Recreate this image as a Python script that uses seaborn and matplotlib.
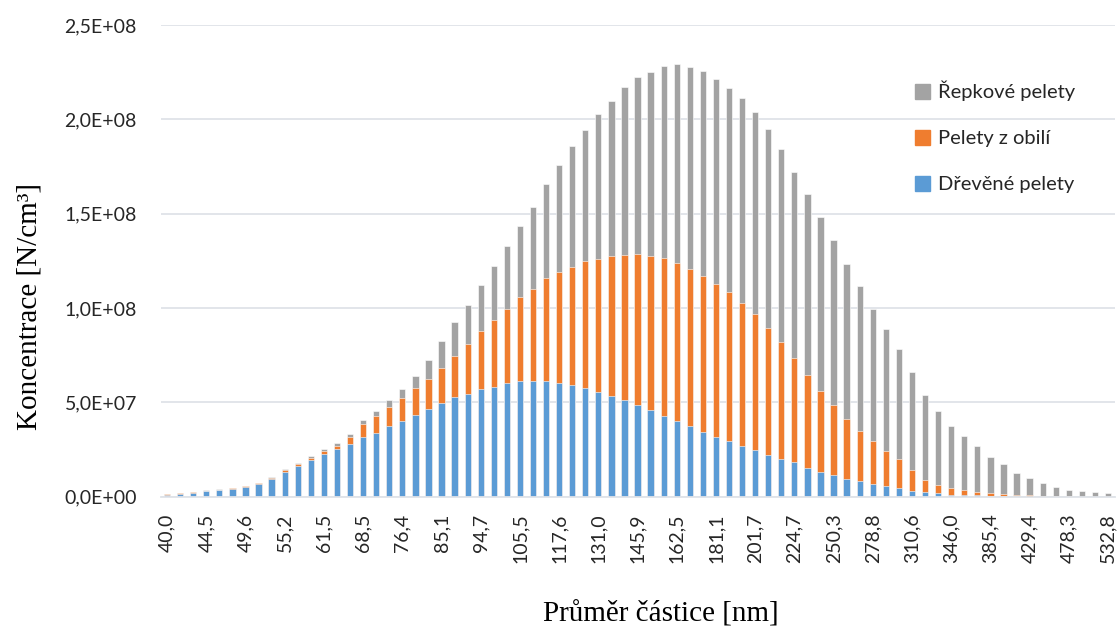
import numpy as np
import pandas as pd
import seaborn as sns
from matplotlib import pyplot as plt
from matplotlib.patches import Patch

# particle diameters [nm] (SMPS channels)
diameters = ["40,0", "41,4", "42,9", "44,5", "46,1", "47,8", "49,6", "51,4", "53,3", "55,2",
             "57,3", "59,4", "61,5", "63,8", "66,1", "68,5", "71,0", "73,7", "76,4", "79,1",
             "82,0", "85,1", "88,2", "91,4", "94,7", "98,2", "101,8", "105,5", "109,4", "113,4",
             "117,6", "121,9", "126,3", "131,0", "135,8", "140,7", "145,9", "151,2", "156,8", "162,5",
             "168,5", "174,7", "181,1", "187,7", "194,6", "201,7", "209,1", "216,7", "224,7", "232,9",
             "241,4", "250,3", "259,5", "269,0", "278,8", "289,0", "299,6", "310,6", "322,0", "333,8",
             "346,0", "358,7", "371,8", "385,4", "399,5", "414,2", "429,4", "445,1", "461,4", "478,3",
             "495,8", "514,0", "532,8"]

# concentrations in millions N/cm3
drevene = [0.9, 1.2, 2.0, 2.9, 3.4, 4.1, 5.3, 6.7, 9.5, 13.3,
           16.4, 19.4, 22.4, 25.3, 28.1, 31.4, 33.9, 37.3, 40.3, 43.3,
           46.5, 49.5, 52.7, 54.6, 57.1, 58.3, 60.1, 61.1, 61.1, 61.1,
           60.2, 59.2, 57.4, 55.3, 53.4, 51.1, 48.8, 45.8, 42.8, 39.9,
           37.3, 34.5, 31.8, 29.7, 26.9, 24.6, 22.1, 20.1, 18.2, 15.4,
           13.3, 11.5, 9.5, 8.1, 6.9, 5.5, 4.6, 3.0, 2.5, 1.8,
           1.0, 0.9, 0.7, 0.5, 0.3, 0.2, 0.1, 0.1, 0.05, 0.0,
           0.0, 0.0, 0.0]
obili = [0.4, 0.6, 0.4, 0.3, 0.4, 0.3, 0.3, 0.4, 0.6, 0.7,
         1.1, 1.3, 1.6, 1.7, 3.3, 6.9, 9.0, 10.4, 12.0, 14.1,
         15.9, 18.9, 22.0, 26.3, 30.5, 35.5, 39.4, 44.6, 49.0, 54.6,
         59.0, 62.7, 67.3, 70.7, 74.0, 77.2, 79.6, 81.6, 83.5, 84.1,
         83.4, 82.6, 80.9, 78.8, 75.9, 72.5, 67.3, 61.9, 55.1, 49.3,
         42.9, 37.1, 31.5, 26.9, 22.4, 18.7, 15.2, 11.0, 6.2, 4.4,
         3.5, 2.6, 1.8, 1.3, 1.1, 0.9, 0.6, 0.4, 0.25, 0.2,
         0.1, 0.1, 0.0]
repkove = [0.2, 0.2, 0.2, 0.2, 0.3, 0.2, 0.2, 0.3, 0.5, 0.5,
           0.5, 0.7, 1.1, 1.3, 2.0, 2.3, 2.5, 3.5, 4.8, 6.4,
           9.9, 13.9, 17.9, 20.9, 24.8, 28.3, 33.2, 37.9, 43.4, 49.8,
           56.8, 63.8, 69.6, 77.0, 82.3, 88.7, 94.0, 97.7, 102.1, 105.2,
           106.9, 108.5, 108.7, 108.1, 108.3, 106.9, 105.3, 102.1, 99.0, 95.5,
           92.0, 87.3, 82.1, 76.5, 70.3, 64.8, 58.3, 51.9, 45.2, 39.4,
           33.2, 28.5, 24.2, 19.4, 15.7, 11.4, 9.2, 6.7, 4.6, 3.3,
           2.7, 2.2, 1.9]

c_blue = "#5b9bd5"
c_orange = "#ef7d2f"
c_grey = "#a3a3a3"
grid_c = "#dfe3e8"


def main():
    df = pd.DataFrame({"d": diameters,
                       "b": np.array(drevene) * 1e6,
                       "o": np.array(obili) * 1e6,
                       "g": np.array(repkove) * 1e6})
    df["bo"] = df["b"] + df["o"]
    df["bog"] = df["bo"] + df["g"]

    sns.set_style("white")
    plt.rcParams["font.family"] = ["Lato", "DejaVu Sans"]

    fig = plt.figure(figsize=(11.18, 6.27), dpi=100)
    ax = fig.add_axes([0.1436, 0.2078, 0.8533, 0.7523])

    # stacked bars drawn back to front
    for col, c in [("bog", c_grey), ("bo", c_orange), ("b", c_blue)]:
        sns.barplot(data=df, x="d", y=col, order=diameters, color=c, width=0.48,
                    saturation=1, edgecolor="white", linewidth=0.4, ax=ax)

    ax.set_xlim(-0.5, len(diameters) - 0.5)
    ax.set_ylim(0, 2.5e8)
    yt = [0, 5e7, 1e8, 1.5e8, 2e8, 2.5e8]
    ax.set_yticks(yt)
    ax.set_yticklabels(["0,0E+00", "5,0E+07", "1,0E+08", "1,5E+08", "2,0E+08", "2,5E+08"])
    ax.set_xticks(range(0, len(diameters), 3))
    ax.set_xticklabels(diameters[::3], rotation=90)
    ax.tick_params(axis="y", length=0, pad=17, labelsize=14, labelcolor="#262626")
    ax.tick_params(axis="x", length=0, pad=12, labelsize=14, labelcolor="#262626")

    ax.yaxis.grid(True, color=grid_c, linewidth=1.3)
    ax.set_axisbelow(True)
    for s in ["top", "right", "left"]:
        ax.spines[s].set_visible(False)
    ax.spines["bottom"].set_color(grid_c)
    ax.spines["bottom"].set_linewidth(1.3)

    ax.set_ylabel("Koncentrace [N/cm³]", fontsize=21, family="Liberation Serif", color="black")
    ax.set_xlabel("Průměr částice [nm]", fontsize=21, family="Liberation Serif", color="black")
    ax.yaxis.set_label_coords(-0.124, 0.404)
    ax.xaxis.set_label_coords(0.524, -0.221)

    handles = [Patch(color=c_grey, label="Řepkové pelety"),
               Patch(color=c_orange, label="Pelety z obilí"),
               Patch(color=c_blue, label="Dřevěné pelety")]
    ax.legend(handles=handles, loc="upper left", bbox_to_anchor=(0.772, 0.92),
              frameon=False, fontsize=14.5, labelspacing=1.42,
              handlelength=0.75, handleheight=0.75, handletextpad=0.4)

    plt.savefig("out.png", dpi=100)


if __name__ == "__main__":
    main()
